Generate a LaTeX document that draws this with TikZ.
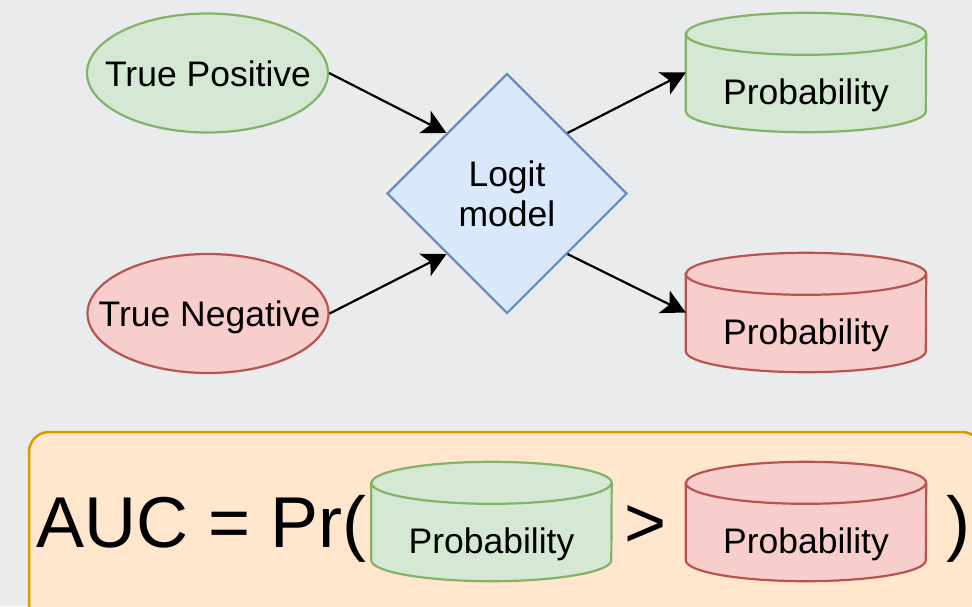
\documentclass[tikz,border=0pt]{standalone}
\usepackage{fontspec}
\setmainfont{Liberation Sans}
\usetikzlibrary{shapes.geometric,arrows.meta}
\definecolor{bgc}{HTML}{EAEBED}
\definecolor{gfill}{HTML}{D5E8D4}
\definecolor{gline}{HTML}{82B366}
\definecolor{rfill}{HTML}{F8CECC}
\definecolor{rline}{HTML}{B85450}
\definecolor{bfill}{HTML}{DAE8FC}
\definecolor{bline}{HTML}{6C8EBF}
\definecolor{ofill}{HTML}{FFE6CC}
\definecolor{oline}{HTML}{D79B00}
\tikzset{
  lbl/.style={font=\fontsize{35.5}{40}\selectfont, inner sep=0pt},
  ell/.style={ellipse, draw, line width=2.2pt, minimum width=241pt, minimum height=119pt, inner sep=0pt},
  cylbox/.style={rectangle, draw=none, minimum width=240pt, minimum height=119pt, inner sep=0pt},
  conn/.style={line width=2.2pt, -{Stealth[length=24pt,width=25pt,inset=6pt]}},
}
\newcommand{\dbcyl}[4]{%
  \node[cylbox] (#1) at #2 {};
  \draw[draw=#4, fill=#3, line width=2.2pt] ([yshift=-21pt]#1.north west) -- ([yshift=21pt]#1.south west)
     arc[start angle=180,end angle=360,x radius=120pt,y radius=21pt]
     -- ([yshift=-21pt]#1.north east)
     arc[start angle=0,end angle=180,x radius=120pt,y radius=21pt] -- cycle;
  \draw[draw=#4, line width=2.2pt] ([yshift=-21pt]#1.north west)
     arc[start angle=180,end angle=360,x radius=120pt,y radius=21pt];
  \node[lbl, anchor=base] (#1-t) at ([yshift=-31.5pt]#1.center) {Probability};
}
\begin{document}
\begin{tikzpicture}[x=1pt,y=-1pt]
\fill[bgc] (0,0) rectangle (972,606);
\useasboundingbox (0,0) rectangle (972,606);
\clip (0,0) rectangle (972,606);

% top part
\node[ell, fill=gfill, draw=gline] (tp) at (207.5,73) {};
\node[lbl, anchor=base] (tp-t) at (208,86) {True Positive};
\node[ell, fill=rfill, draw=rline] (tn) at (208,313.5) {};
\node[lbl, anchor=base] (tn-t) at (209.5,326) {True Negative};
\node[diamond, draw=bline, fill=bfill, line width=2.2pt, minimum width=240pt, minimum height=240pt, inner sep=0pt, align=center, font=\fontsize{35.5}{40}\selectfont] (lm) at (507,193.5) {Logit\\model};
\dbcyl{pg}{(806,72.5)}{gfill}{gline}
\dbcyl{pr}{(806,312.5)}{rfill}{rline}

\draw[conn] (tp.east) -- (lm.north west);
\draw[conn] (tn.east) -- (lm.south west);
\draw[conn] (lm.north east) -- (pg.west);
\draw[conn] (lm.south east) -- (pr.west);

% bottom formula box
\draw[draw=oline, fill=ofill, line width=2.5pt, rounded corners=20pt] (29,432) rectangle (982,640);
\node[inner sep=0pt, anchor=base west, font=\fontsize{72}{80}\selectfont] (auc) at (36,547) {AUC = Pr(};
\dbcyl{bg}{(491.5,521.5)}{gfill}{gline}
\node[inner sep=0pt, anchor=base west, font=\fontsize{72}{80}\selectfont] (gt) at (624,547) {>};
\dbcyl{br}{(806,521.5)}{rfill}{rline}
\node[inner sep=0pt, anchor=base west, font=\fontsize{72}{80}\selectfont] (cp) at (946,547) {)};
\end{tikzpicture}
\end{document}
